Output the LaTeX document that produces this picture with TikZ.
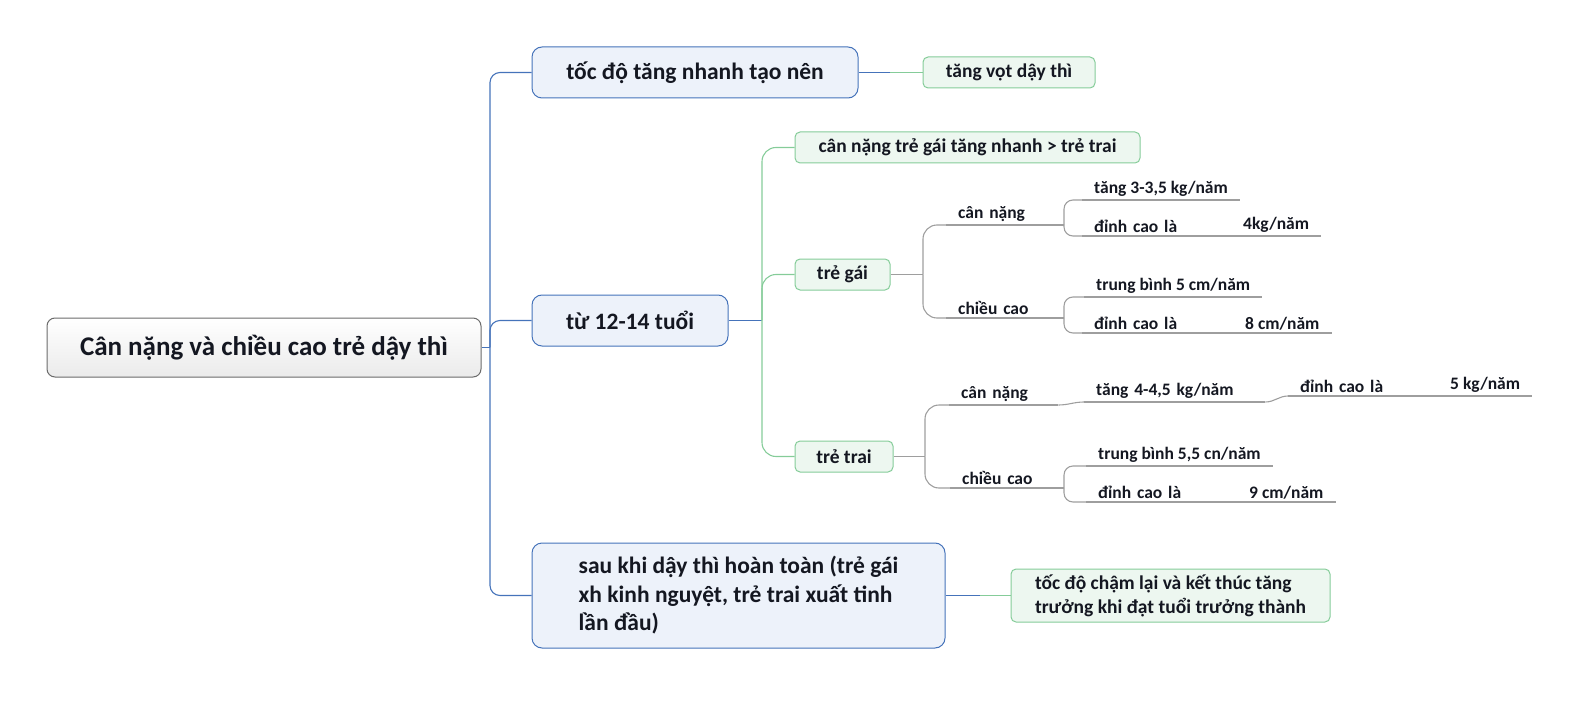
\documentclass[tikz,border=0pt]{standalone}
\usepackage{fontspec}
\setmainfont{Carlito}
\usepackage{tikz}
\definecolor{ink}{rgb}{0.08, 0.09, 0.13}
\definecolor{blueline}{rgb}{0.27, 0.45, 0.73}
\definecolor{bluefill}{rgb}{0.93, 0.95, 0.98}
\definecolor{greenline}{rgb}{0.52, 0.80, 0.60}
\definecolor{greenfill}{rgb}{0.93, 0.97, 0.94}
\definecolor{greyline}{rgb}{0.62, 0.62, 0.62}
\definecolor{rootline}{rgb}{0.42, 0.42, 0.42}
\tikzstyle{rootbox} = [rounded corners=8pt, draw=rootline, line width=1pt, top color=white, bottom color=black!8, minimum width=434pt, minimum height=59pt, font=\bfseries\fontsize{27}{30}\selectfont]
\tikzstyle{mainbox} = [rounded corners=10pt, draw=blueline, line width=1pt, fill=bluefill, font=\bfseries\fontsize{23.5}{28.5}\selectfont, align=left]
\tikzstyle{subbox} = [rounded corners=5pt, draw=greenline, line width=1pt, fill=greenfill, font=\bfseries\fontsize{19.5}{24}\selectfont, align=left]
\tikzstyle{twig} = [anchor=south west, inner xsep=12pt, inner ysep=3pt, align=left, font=\bfseries\fontsize{17.5}{20}\selectfont]
\tikzstyle{bluelink} = [draw=blueline, line width=1.1pt]
\tikzstyle{greenlink} = [draw=greenline, line width=1.1pt]
\tikzstyle{greylink} = [draw=greyline, line width=1.1pt]

\begin{document}
\begin{tikzpicture}[x=1pt, y=-1pt, every node/.style={text=ink}]
\useasboundingbox (0,0) rectangle (1586,703);
\node[rootbox] (root) at (264,347.5) {Cân nặng và chiều cao trẻ dậy thì};
\node[mainbox, minimum width=326pt, minimum height=51pt] (speed) at (695,72.5) {tốc độ tăng nhanh tạo nên};
\node[mainbox, minimum width=196pt, minimum height=51pt] (age) at (630,320.5) {từ 12-14 tuổi};
\node[mainbox, minimum width=413pt, minimum height=105pt] (after) at (738.5,595.5) {sau khi dậy thì hoàn toàn (trẻ gái\\xh kinh nguyệt, trẻ trai xuất tinh\\lần đầu)};
\node[subbox, minimum width=172pt, minimum height=31pt] (spurt) at (1009,72.5) {tăng vọt dậy thì};
\node[subbox, minimum width=345pt, minimum height=31pt] (compare) at (967.5,147.5) {cân nặng trẻ gái tăng nhanh > trẻ trai};
\node[subbox, minimum width=95pt, minimum height=31pt] (girl) at (842.5,274.5) {trẻ gái};
\node[subbox, minimum width=98pt, minimum height=31pt] (boy) at (844,456.5) {trẻ trai};
\node[subbox, minimum width=319pt, minimum height=53pt] (slow) at (1170.5,595.5) {tốc độ chậm lại và kết thúc tăng\\trưởng khi đạt tuổi trưởng thành};
\node[twig, text width=88pt] (gw) at (946,225) {cân nặng};
\node[twig] (gw1) at (1082,200) {tăng 3-3,5 kg/năm};
\node[twig, text width=104pt] (gw2) at (1082,236) {đỉnh cao là};
\node[twig] (gw2v) at (1231,236) {4kg/năm};
\node[twig, text width=88pt] (gh) at (946,318) {chiều cao};
\node[twig] (gh1) at (1084,297) {trung bình 5 cm/năm};
\node[twig, text width=109pt] (gh2) at (1082,333) {đỉnh cao là};
\node[twig] (gh2v) at (1233,333) {8 cm/năm};
\node[twig, text width=85pt] (bw) at (949,405) {cân nặng};
\node[twig, text width=157pt] (bw1) at (1084,402) {tăng 4-4,5 kg/năm};
\node[twig, text width=101pt] (bw1p) at (1288,396) {đỉnh cao là};
\node[twig] (bw1v) at (1438,396) {5 kg/năm};
\node[twig, text width=84pt] (bh) at (950,488) {chiều cao};
\node[twig] (bh1) at (1086,466) {trung bình 5,5 cn/năm};
\node[twig, text width=120pt] (bh2) at (1086,502) {đỉnh cao là};
\node[twig] (bh2v) at (1237,502) {9 cm/năm};
\coordinate (trunk) at (490,347.5);
\coordinate (speedmid) at (890,72.5);
\coordinate (slowmid) at (980,595.5);
\coordinate (agehub) at (762,320.5);
\coordinate (girlhub) at (923,274.5);
\coordinate (boyhub) at (925,456.5);
\coordinate (gwhub) at (1064,225);
\coordinate (ghhub) at (1064,318);
\coordinate (bhhub) at (1064,488);
\draw[bluelink] (root.east) -- (trunk);
\draw[bluelink, rounded corners=10pt] (trunk) |- (speed.west);
\draw[bluelink, rounded corners=10pt] (trunk) |- (age.west);
\draw[bluelink, rounded corners=10pt] (trunk) |- (after.west);
\draw[bluelink] (speed.east) -- (speedmid);
\draw[greenlink] (speedmid) -- (spurt.west);
\draw[bluelink] (after.east) -- (slowmid);
\draw[greenlink] (slowmid) -- (slow.west);
\draw[bluelink] (age.east) -- (agehub);
\draw[greenlink, rounded corners=14pt] (agehub) |- (compare.west);
\draw[greenlink, rounded corners=14pt] (agehub) |- (girl.west);
\draw[greenlink, rounded corners=14pt] (agehub) |- (boy.west);
\draw[greylink] (girl.east) -- (girlhub);
\draw[greylink, rounded corners=14pt] (girlhub) |- (gw.south west);
\draw[greylink, rounded corners=14pt] (girlhub) |- (gh.south west);
\draw[greylink] (boy.east) -- (boyhub);
\draw[greylink, rounded corners=14pt] (boyhub) |- (bw.south west);
\draw[greylink, rounded corners=14pt] (boyhub) |- (bh.south west);
\draw[greylink] (gw.south east) -- (gwhub);
\draw[greylink, rounded corners=9pt] (gwhub) |- (gw1.south west);
\draw[greylink, rounded corners=9pt] (gwhub) |- (gw2.south west);
\draw[greylink] (gh.south east) -- (ghhub);
\draw[greylink, rounded corners=9pt] (ghhub) |- (gh1.south west);
\draw[greylink, rounded corners=9pt] (ghhub) |- (gh2.south west);
\draw[greylink] (bh.south east) -- (bhhub);
\draw[greylink, rounded corners=9pt] (bhhub) |- (bh1.south west);
\draw[greylink, rounded corners=9pt] (bhhub) |- (bh2.south west);
\draw[greylink] (bw.south east) to[out=0, in=180] (bw1.south west);
\draw[greylink] (bw1.south east) to[out=0, in=180] (bw1p.south west);
\draw[greylink] (bw1p.south east) -- (bw1v.south west);
\draw[greylink] (gw2.south east) -- (gw2v.south west);
\draw[greylink] (gh2.south east) -- (gh2v.south west);
\draw[greylink] (bh2.south east) -- (bh2v.south west);
\foreach \n in {gw,gw1,gw2,gw2v,gh,gh1,gh2,gh2v,bw,bw1,bw1p,bw1v,bh,bh1,bh2,bh2v}
  \draw[greylink] (\n.south west) -- (\n.south east);
\end{tikzpicture}
\end{document}
